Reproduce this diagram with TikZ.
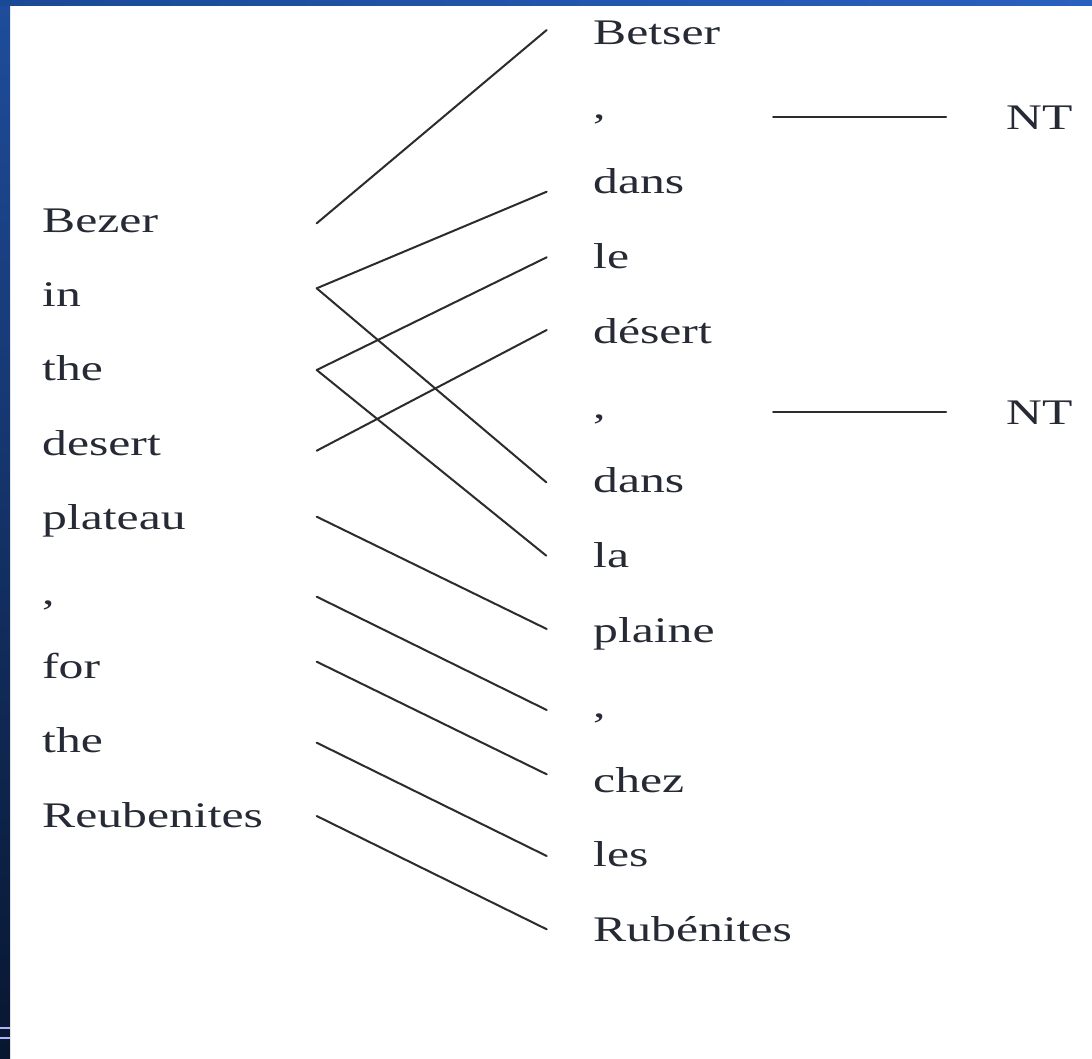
\documentclass[tikz,border=0pt]{standalone}
\usepackage{graphicx}
\usepackage{fontspec}
\setmainfont{Liberation Serif}
\definecolor{txt}{HTML}{262A34}
\definecolor{lin}{HTML}{2C2C2C}
\definecolor{bandtop}{HTML}{1F4D9C}
\definecolor{bandbot}{HTML}{081630}
\definecolor{topl}{HTML}{1A4A96}
\definecolor{topr}{HTML}{2A60C0}
\newcommand{\Wd}[1]{\scalebox{1.38}[1]{#1}}
\tikzset{
  word/.style={anchor=base west, inner sep=0pt, text=txt, font=\fontsize{36}{36}\selectfont},
  link/.style={draw=lin, line width=2pt, line cap=round},
}
\begin{document}
\begin{tikzpicture}[x=1pt, y=-1pt]
\useasboundingbox (0,0) rectangle (1092,1058);
\fill[white] (0,0) rectangle (1092,1058);
% frame bands
\shade[top color=bandtop, bottom color=bandbot] (0,0) rectangle (10,1058);
\shade[left color=topl, right color=topr] (0,0) rectangle (1092,5);
\draw[color=blue!30!white, line width=1.2pt] (0,1028) -- (10,1028);
\draw[color=blue!30!white, line width=1.2pt] (0,1038) -- (10,1038);

% left column
\node[word] (bezer)  at (42,232)   {\Wd{Bezer}};
\node[word] (in)     at (42,306.4) {\Wd{in}};
\node[word] (the1)   at (42,380.8) {\Wd{the}};
\node[word] (desert) at (42,455.2) {\Wd{desert}};
\node[word] (plat)   at (42,529.6) {\Wd{plateau}};
\node[word] (comL)   at (42,604)   {\Wd{,}};
\node[word] (for)    at (42,678.4) {\Wd{for}};
\node[word] (the2)   at (42,752.8) {\Wd{the}};
\node[word] (reub)   at (42,827.2) {\Wd{Reubenites}};

% right column
\node[word] (betser) at (593,44)    {\Wd{Betser}};
\node[word] (comR1)  at (593,118.8) {\Wd{,}};
\node[word] (dans1)  at (593,193.6) {\Wd{dans}};
\node[word] (le)     at (593,268.4) {\Wd{le}};
\node[word] (desR)   at (593,343.2) {\Wd{désert}};
\node[word] (comR2)  at (593,418)   {\Wd{,}};
\node[word] (dans2)  at (593,492.8) {\Wd{dans}};
\node[word] (la)     at (593,567.6) {\Wd{la}};
\node[word] (plaine) at (593,642.4) {\Wd{plaine}};
\node[word] (comR3)  at (593,717.2) {\Wd{,}};
\node[word] (chez)   at (593,792)   {\Wd{chez}};
\node[word] (les)    at (593,866.8) {\Wd{les}};
\node[word] (rub)    at (593,941.6) {\Wd{Rubénites}};

% NT labels
\node[word] (nt1) at (1006,129) {\Wd{NT}};
\node[word] (nt2) at (1006,424) {\Wd{NT}};

% attachment points
\coordinate (aBezer)  at (316.7,223.3);
\coordinate (aIn)     at (316.7,288.3);
\coordinate (aThe1)   at (316.7,370);
\coordinate (aDesert) at (316.7,450.7);
\coordinate (aPlat)   at (316.7,516.7);
\coordinate (aComL)   at (316.7,596.7);
\coordinate (aFor)    at (316.7,661.7);
\coordinate (aThe2)   at (316.7,742.7);
\coordinate (aReub)   at (316.7,816);

\coordinate (bBetser) at (546.7,30);
\coordinate (bDans1)  at (546.7,191.7);
\coordinate (bLe)     at (546.7,257.3);
\coordinate (bDesR)   at (546.7,330);
\coordinate (bDans2)  at (546.3,482.3);
\coordinate (bLa)     at (546.3,555.7);
\coordinate (bPlaine) at (546.7,629);
\coordinate (bComR3)  at (546.7,710);
\coordinate (bChez)   at (546.7,774.3);
\coordinate (bLes)    at (546.7,856);
\coordinate (bRub)    at (546.7,929.3);

\coordinate (c1a) at (773,117);
\coordinate (c1b) at (946,117);
\coordinate (c2a) at (773,412);
\coordinate (c2b) at (946,412);

% links
\draw[link] (aBezer) -- (bBetser);
\draw[link] (aIn) -- (bDans1);
\draw[link] (aIn) -- (bDans2);
\draw[link] (aThe1) -- (bLe);
\draw[link] (aThe1) -- (bLa);
\draw[link] (aDesert) -- (bDesR);
\draw[link] (aPlat) -- (bPlaine);
\draw[link] (aComL) -- (bComR3);
\draw[link] (aFor) -- (bChez);
\draw[link] (aThe2) -- (bLes);
\draw[link] (aReub) -- (bRub);
\draw[link] (c1a) -- (c1b);
\draw[link] (c2a) -- (c2b);
\end{tikzpicture}
\end{document}
